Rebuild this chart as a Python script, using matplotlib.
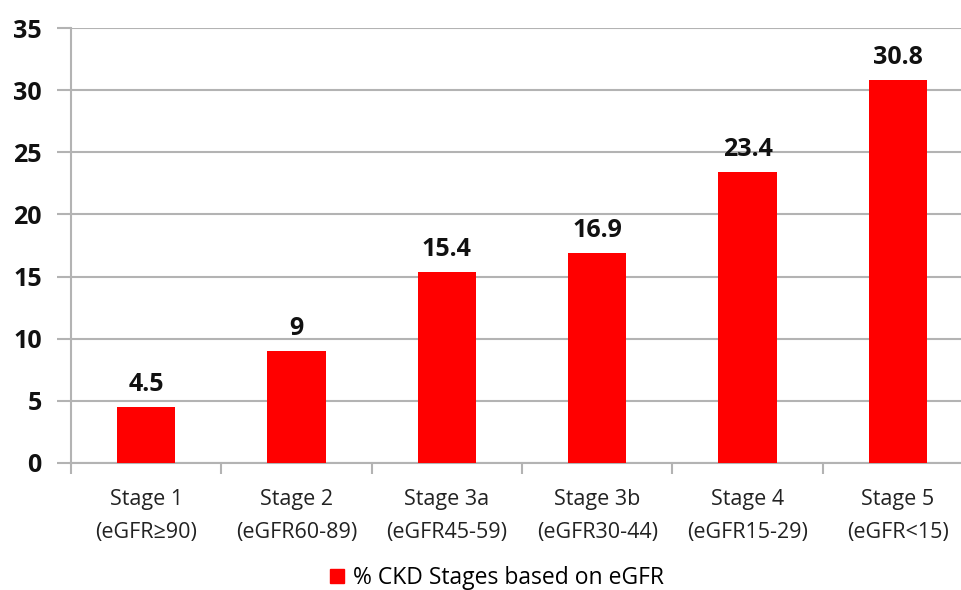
import matplotlib
matplotlib.use("Agg")
import matplotlib.pyplot as plt
from matplotlib.patches import Patch

plt.rcParams['font.family'] = ['Open Sans', 'DejaVu Sans']

stages = ["Stage 1", "Stage 2", "Stage 3a", "Stage 3b", "Stage 4", "Stage 5"]
egfr_ranges = ["(eGFR\u226590)", "(eGFR60-89)", "(eGFR45-59)", "(eGFR30-44)",
               "(eGFR15-29)", "(eGFR<15)"]
percent = [4.5, 9, 15.4, 16.9, 23.4, 30.8]
value_labels = ["4.5", "9", "15.4", "16.9", "23.4", "30.8"]
series_name = "% CKD Stages based on eGFR"
y_ticks = [0, 5, 10, 15, 20, 25, 30, 35]

W, H = 961, 590
fig = plt.figure(figsize=(W / 100, H / 100), dpi=100)
ax = fig.add_axes([71 / W, 1 - 463 / H, (973 - 71) / W, (463 - 28) / H])

grid_c = "#b3b3b3"
bar_c = "#ff0000"
x = list(range(len(stages)))
ax.bar(x, percent, width=0.39, color=bar_c, zorder=3)

for xi, v, lab in zip(x, percent, value_labels):
    ax.annotate(lab, (xi, v), xytext=(0, 7), textcoords="offset points",
                ha="center", va="bottom", fontsize=18, fontweight="bold",
                color="#111111")

ax.set_xlim(-0.5, len(stages) - 0.5)
ax.set_ylim(0, 35)
ax.set_yticks(y_ticks)
ax.set_yticklabels([str(t) for t in y_ticks], fontsize=18, fontweight="bold",
                   color="#111111")
ax.yaxis.grid(True, color=grid_c, linewidth=1.5, zorder=0)
ax.set_axisbelow(True)

ax.set_xticks([i + 0.5 for i in range(-1, len(stages))], minor=False)
ax.set_xticklabels([""] * (len(stages) + 1))
ax.set_xticks(x, minor=True)
ax.set_xticklabels([f"{s}\n{r}" for s, r in zip(stages, egfr_ranges)],
                   minor=True, fontsize=15.5, color="#222222", linespacing=1.75)
ax.tick_params(axis="x", which="major", length=8, color=grid_c, width=1.5,
               direction="out")
ax.tick_params(axis="x", which="minor", length=0, pad=19)
ax.tick_params(axis="y", length=10, color=grid_c, width=1.5, pad=11)

for side in ("top", "right"):
    ax.spines[side].set_visible(False)
for side in ("left", "bottom"):
    ax.spines[side].set_color(grid_c)
    ax.spines[side].set_linewidth(1.5)

fig.legend(handles=[Patch(color=bar_c, label=series_name)],
           loc="center", bbox_to_anchor=(497 / W, 1 - 578 / H),
           frameon=False, fontsize=16.5, handlelength=0.6, handleheight=0.6,
           handletextpad=0.4, borderpad=0)

fig.savefig("out.png", dpi=100)
